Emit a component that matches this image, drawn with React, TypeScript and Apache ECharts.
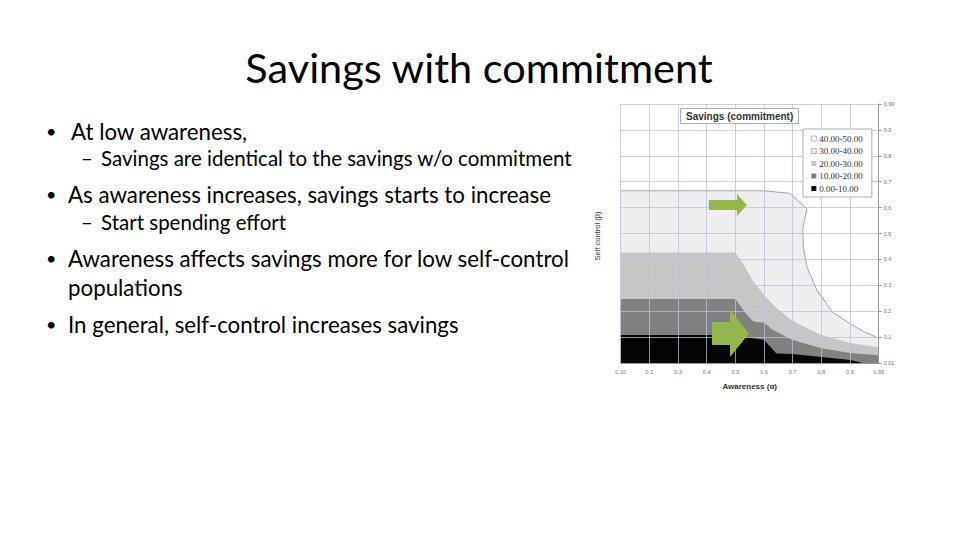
import { useEffect, useRef } from 'react'
import * as echarts from 'echarts'

// ===== data (awareness α on x, self-control β on y; the 0.99 column/row sits at 1.0) =====
const xTickLabels = ['0.10', '0.2', '0.3', '0.4', '0.5', '0.6', '0.7', '0.8', '0.9', '0.99']
const yTickLabels = ['0.01', '0.1', '0.2', '0.3', '0.4', '0.5', '0.6', '0.7', '0.8', '0.9', '0.99']

const bandNames = ['40.00-50.00', '30.00-40.00', '20.00-30.00', '10.00-20.00', '0.00-10.00']
const bandColors = ['#ffffff', '#eeeef0', '#c6c6c6', '#828182', '#050505']

// upper edge of each band (everything below it up to the next band)
const top40 = [[0.1, 1.0], [1.0, 1.0]]
const top30 = [
  [0.1, 0.665], [0.6, 0.665], [0.69, 0.655], [0.75, 0.595], [0.735, 0.52], [0.737, 0.45],
  [0.75, 0.37], [0.785, 0.28], [0.84, 0.195], [0.9, 0.152], [0.95, 0.12], [1.0, 0.096],
]
const top20 = [
  [0.1, 0.427], [0.5, 0.427], [0.53, 0.378], [0.563, 0.314], [0.6, 0.263], [0.644, 0.211],
  [0.7, 0.163], [0.75, 0.134], [0.8, 0.108], [0.9, 0.077], [1.0, 0.06],
]
const top10 = [
  [0.1, 0.247], [0.5, 0.247], [0.54, 0.186], [0.563, 0.16], [0.6, 0.155], [0.631, 0.127],
  [0.7, 0.089], [0.8, 0.057], [0.9, 0.039], [1.0, 0.03],
]
const top0 = [
  [0.1, 0.108], [0.5, 0.108], [0.54, 0.098], [0.6, 0.09], [0.643, 0.037], [0.7, 0.035],
  [0.8, 0.023], [0.9, 0.012], [0.945, 0], [1.0, 0],
]
const bandTops = [top40, top30, top20, top10, top0]

// green arrows (centre in data coords)
const arrowSpots = [[0.474, 0.61], [0.483, 0.114]]

const slideLines = [
  { mark: '•', text: 'At low awareness,', level: 0 },
  { mark: '–', text: 'Savings are identical to the savings w/o commitment', level: 1 },
  { mark: '•', text: 'As awareness increases, savings starts to increase', level: 0 },
  { mark: '–', text: 'Start spending effort', level: 1 },
  { mark: '•', text: 'Awareness affects savings more for low self-control', level: 0 },
  { mark: '', text: 'populations', level: 0 },
  { mark: '•', text: 'In general, self-control increases savings', level: 0 },
]
const lineY = [131, 158, 194, 222, 258, 287, 324]

const FONT = 'Lato, "Open Sans", sans-serif'
const GRID_COLOR = 'rgba(182,195,214,0.75)'

export default function App() {
  const ref = useRef<HTMLDivElement>(null)

  useEffect(() => {
    if (!ref.current) return
    const chart = echarts.init(ref.current, null, { renderer: 'svg' })

    const texts: any[] = [
      {
        type: 'text', x: 479, y: 67,
        style: { text: 'Savings with commitment', fontSize: 41.5, fontFamily: FONT, fill: '#000', align: 'center', verticalAlign: 'middle' },
      },
      {
        type: 'text', x: 597, y: 236, rotation: Math.PI / 2,
        style: { text: 'Self control (β)', fontSize: 7.5, fontFamily: 'Liberation Sans', fill: '#333', align: 'center', verticalAlign: 'middle' },
      },
    ]
    slideLines.forEach((l, i) => {
      const fs = l.level === 0 ? 22.3 : 20.5
      const textX = l.level === 0 ? (i === 0 ? 71 : 68) : 101
      if (l.mark) {
        texts.push({
          type: 'text', x: l.level === 0 ? 46 : 81, y: lineY[i],
          style: { text: l.mark, fontSize: l.level === 0 ? 18 : fs, fontFamily: FONT, fill: '#000', align: 'left', verticalAlign: 'middle' },
        })
      }
      texts.push({
        type: 'text', x: textX, y: lineY[i],
        style: { text: l.text, fontSize: fs, fontFamily: FONT, fill: '#000', align: 'left', verticalAlign: 'middle' },
      })
    })

    const arrowPaths = [
      'path://M0 6 L28 6 L28 0 L38 11 L28 22 L28 16 L0 16 Z',
      'path://M0 12 L18 12 L18 0 L37 23.5 L18 47 L18 35 L0 35 Z',
    ]
    const arrowSizes = [[38, 22], [37, 47]]

    const series: any[] = bandTops.map((d, i) => ({
      name: bandNames[i],
      type: 'line',
      data: d,
      showSymbol: false,
      symbol: 'none',
      silent: true,
      lineStyle: i === 1 ? { color: '#8a92a2', width: 0.8 } : { width: 0, opacity: 0 },
      itemStyle: { color: bandColors[i] },
      areaStyle: { color: bandColors[i], opacity: 1, origin: 'start' },
    }))
    series[4].markPoint = {
      silent: true, z: 6, animation: false,
      label: { show: false },
      itemStyle: { color: '#95b64a' },
      data: arrowSpots.map((c, i) => ({ coord: c, symbol: arrowPaths[i], symbolSize: arrowSizes[i], symbolKeepAspect: false })),
    }

    chart.setOption({
      animation: false,
      backgroundColor: '#ffffff',
      textStyle: { fontFamily: 'Liberation Sans' },
      title: {
        text: 'Savings (commitment)',
        left: 680, top: 108,
        padding: [3, 6, 3, 6],
        borderColor: '#a9b0b8', borderWidth: 1, backgroundColor: '#ffffff', z: 10,
        textStyle: { fontSize: 10, fontWeight: 'bold', color: '#333', fontFamily: 'Liberation Sans' },
      },
      legend: {
        orient: 'vertical',
        left: 803, top: 129,
        padding: [5, 9, 4, 8],
        itemGap: 3.5, itemWidth: 5, itemHeight: 5,
        icon: 'rect',
        backgroundColor: '#ffffff', borderColor: '#a9b0b8', borderWidth: 1, z: 10,
        selectedMode: false,
        textStyle: { fontSize: 9, lineHeight: 9, color: '#333', fontFamily: 'Liberation Serif', padding: [0, 0, 0, -2] },
        data: bandNames.map((n, i) => ({
          name: n,
          itemStyle: { color: bandColors[i], borderColor: i < 2 ? '#999' : bandColors[i], borderWidth: i < 2 ? 0.7 : 0 },
        })),
      },
      grid: { left: 620.7, right: 81.3, top: 104, bottom: 177 },
      // axes sit above the bands (z) so their split lines show through like the Excel grid
      xAxis: {
        type: 'value', min: 0.1, max: 1.0, interval: 0.1, z: 5,
        name: 'Awareness (α)', nameLocation: 'middle', nameGap: 19,
        nameTextStyle: { fontSize: 8, fontWeight: 'bold', color: '#333', fontFamily: 'Liberation Sans' },
        axisLine: { lineStyle: { color: '#9a9a9a' } },
        axisTick: { show: false },
        axisLabel: { fontSize: 5.5, color: '#777', margin: 6, formatter: (_v: number, idx: number) => xTickLabels[idx] },
        splitLine: { show: true, lineStyle: { color: GRID_COLOR, width: 1 } },
      },
      yAxis: {
        type: 'value', min: 0, max: 1.0, interval: 0.1, position: 'right', z: 5,
        axisLine: { show: true, lineStyle: { color: '#9a9a9a' } },
        axisTick: { show: true, length: 3, lineStyle: { color: '#9a9a9a' } },
        axisLabel: { fontSize: 5.5, color: '#777', margin: 5, formatter: (_v: number, idx: number) => yTickLabels[idx] },
        splitLine: { show: true, lineStyle: { color: GRID_COLOR, width: 1 } },
      },
      series,
      graphic: texts,
    })

    return () => chart.dispose()
  }, [])

  return (
    <div
      ref={ref}
      style={{ position: 'fixed', left: 0, top: 0, width: 960, height: 540, background: '#fff' }}
    />
  )
}
